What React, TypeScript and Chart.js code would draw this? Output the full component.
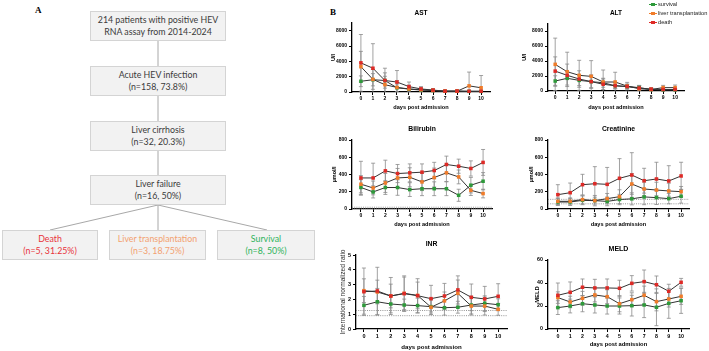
import React, { useEffect, useRef } from "react";
import { Chart, registerables } from "chart.js";

Chart.register(...registerables);
Chart.defaults.font.family = "'Liberation Sans', Arial, sans-serif";

// ---------- data ----------
const days = [0, 1, 2, 3, 4, 5, 6, 7, 8, 9, 10];
const seriesNames = ["survival", "liver transplantation", "death"];

const astSurvival = [1400, 1600, 1500, 550, 380, 250, 200, 100, 100, 80, 80];
const astSurvivalSd = [700, 800, 1000, 500, 400, 250, 150, 100, 100, 80, 80];
const astTransplant = [3300, 1650, 950, 600, 400, 300, 200, 100, 100, 800, 550];
const astTransplantSd = [2000, 1300, 1100, 900, 500, 300, 150, 100, 100, 1800, 1600];
const astDeath = [3800, 3100, 1500, 1300, 700, 400, 250, 120, 130, 100, 100];
const astDeathSd = [3700, 3200, 1600, 1500, 600, 300, 200, 100, 100, 80, 80];
const astTicks = [0, 2000, 4000, 6000, 8000];

const altSurvival = [1330, 1690, 1420, 1250, 1100, 700, 600, 450, 200, 150, 150];
const altSurvivalSd = [700, 900, 700, 800, 600, 400, 300, 300, 150, 100, 100];
const altTransplant = [3550, 2570, 2090, 1950, 1200, 1200, 650, 300, 200, 450, 450];
const altTransplantSd = [3500, 2600, 2000, 2100, 1600, 1300, 500, 400, 200, 300, 350];
const altDeath = [2650, 2090, 1600, 1250, 900, 700, 600, 400, 250, 200, 200];
const altDeathSd = [1900, 1500, 1100, 900, 700, 400, 300, 300, 150, 100, 100];
const altTicks = [0, 2000, 4000, 6000, 8000];

const biliSurvival = [250, 198, 249, 249, 225, 235, 235, 235, 159, 276, 322];
const biliSurvivalSd = [90, 70, 80, 90, 80, 80, 80, 80, 70, 90, 100];
const biliTransplant = [287, 244, 302, 360, 368, 314, 365, 419, 372, 217, 179];
const biliTransplantSd = [100, 80, 110, 110, 110, 100, 110, 100, 80, 60, 50];
const biliDeath = [360, 360, 442, 411, 419, 427, 446, 516, 496, 470, 540];
const biliDeathSd = [193, 171, 124, 105, 104, 96, 95, 97, 82, 88, 150];
const biliRefs = [3.4, 20.5];
const biliTicks = [0, 200, 400, 600, 800];

const creaSurvival = [81, 81, 100, 97, 88, 110, 118, 140, 132, 120, 148];
const creaSurvivalSd = [40, 40, 50, 60, 50, 60, 70, 90, 80, 60, 80];
const creaTransplant = [89, 89, 109, 97, 120, 143, 290, 232, 220, 209, 201];
const creaTransplantSd = [40, 40, 50, 40, 60, 80, 120, 80, 90, 90, 60];
const creaDeath = [166, 189, 282, 293, 286, 356, 394, 328, 348, 325, 383];
const creaDeathSd = [116, 112, 120, 198, 196, 228, 259, 144, 194, 177, 159];
const creaRefs = [60, 112];
const creaTicks = [0, 200, 400, 600, 800];

const inrSurvival = [1.6, 1.84, 1.69, 1.62, 1.58, 1.51, 1.44, 1.47, 1.62, 1.74, 1.64];
const inrSurvivalSd = [0.6, 0.9, 0.6, 0.4, 0.5, 0.5, 0.5, 0.4, 0.6, 0.5, 0.4];
const inrTransplant = [2.59, 2.5, 2.23, 2.41, 2.27, 1.47, 1.9, 2.41, 1.55, 1.55, 1.33];
const inrTransplantSd = [0.8, 0.8, 0.8, 1.1, 0.9, 0.5, 0.6, 0.9, 0.6, 0.6, 0.4];
const inrDeath = [2.52, 2.57, 2.23, 2.39, 2.25, 2.05, 2.23, 2.64, 2.14, 2.03, 2.21];
const inrDeathSd = [1.6, 1.6, 1.25, 1.2, 1.15, 0.9, 0.85, 0.95, 0.9, 0.85, 0.85];
const inrRefs = [0.9, 1.25];
const inrTicks = [0, 1, 2, 3, 4, 5];

const meldSurvival = [18.6, 20, 22, 20.9, 20, 20, 20.3, 20.9, 18.9, 22.3, 24.6];
const meldSurvivalSd = [6, 6, 7, 7, 7, 7, 9, 11, 16, 13, 11];
const meldTransplant = [27.3, 23.5, 26.7, 29.6, 28.1, 22, 25.5, 29.3, 23.8, 26.1, 28.4];
const meldTransplantSd = [5, 5, 6, 6, 6, 7, 6, 8, 8, 7, 7];
const meldDeath = [29.3, 31.9, 36.3, 35.7, 35.7, 35.4, 39.7, 41.2, 38.5, 32.8, 40.6];
const meldDeathSd = [10.7, 9, 7.2, 7.5, 7.8, 7, 6.7, 10.1, 7.6, 6.1, 3.4];
const meldTicks = [0, 20, 40, 60];

// ---------- styles ----------
const GREEN = "#2e9a3a";
const ORANGE = "#f07c2a";
const RED = "#de2a26";
const SERIES_COLORS = [GREEN, ORANGE, RED];
const LINE = "#333333";
const BAR = "#8a8a8a";

type Spec = {
  title: string;
  yTitle: string;
  yTitleBold: boolean;
  yTitleSize: number;
  yMax: number;
  yTicks: number[];
  refs: number[];
  values: number[][];
  sds: number[][];
  rect: { l: number; t: number; r: number; b: number };
  xMin: number;
  xMax: number;
  yW: number;
  yTitleX: number;
  titleY: number;
  xLabelY: number;
  titleSize: number;
  xTitleSize: number;
  tickSize: number;
};

const specs: Spec[] = [
  {
    title: "AST", yTitle: "U/l", yTitleBold: true, yTitleSize: 5.5, yMax: 9000, yTicks: astTicks, refs: [],
    values: [astSurvival, astTransplant, astDeath], sds: [astSurvivalSd, astTransplantSd, astDeathSd],
    rect: { l: 352, t: 23, r: 492, b: 92 }, xMin: -0.74, xMax: 10.74, yW: 26, yTitleX: 333,
    titleY: 13, xLabelY: 108, titleSize: 6.5, xTitleSize: 5.6, tickSize: 5,
  },
  {
    title: "ALT", yTitle: "U/l", yTitleBold: true, yTitleSize: 5.5, yMax: 9000, yTicks: altTicks, refs: [],
    values: [altSurvival, altTransplant, altDeath], sds: [altSurvivalSd, altTransplantSd, altDeathSd],
    rect: { l: 548, t: 23.5, r: 686, b: 91 }, xMin: -0.6, xMax: 10.74, yW: 30, yTitleX: 524,
    titleY: 13, xLabelY: 108, titleSize: 6.5, xTitleSize: 5.6, tickSize: 5,
  },
  {
    title: "Bilirubin", yTitle: "μmol/l", yTitleBold: true, yTitleSize: 5.5, yMax: 800, yTicks: biliTicks, refs: biliRefs,
    values: [biliSurvival, biliTransplant, biliDeath], sds: [biliSurvivalSd, biliTransplantSd, biliDeathSd],
    rect: { l: 352, t: 140, r: 494, b: 209 }, xMin: -0.73, xMax: 10.73, yW: 26, yTitleX: 334,
    titleY: 129, xLabelY: 225, titleSize: 6.8, xTitleSize: 5.6, tickSize: 5,
  },
  {
    title: "Creatinine", yTitle: "μmol/l", yTitleBold: true, yTitleSize: 5.5, yMax: 800, yTicks: creaTicks, refs: creaRefs,
    values: [creaSurvival, creaTransplant, creaDeath], sds: [creaSurvivalSd, creaTransplantSd, creaDeathSd],
    rect: { l: 548, t: 140, r: 691, b: 209 }, xMin: -0.8, xMax: 10.64, yW: 24, yTitleX: 531,
    titleY: 129, xLabelY: 225, titleSize: 6.8, xTitleSize: 5.6, tickSize: 5,
  },
  {
    title: "INR", yTitle: "International normalized ratio", yTitleBold: false, yTitleSize: 6.6, yMax: 5, yTicks: inrTicks, refs: inrRefs,
    values: [inrSurvival, inrTransplant, inrDeath], sds: [inrSurvivalSd, inrTransplantSd, inrDeathSd],
    rect: { l: 356, t: 255, r: 509, b: 329 }, xMin: -0.59, xMax: 10.66, yW: 20, yTitleX: 343,
    titleY: 244, xLabelY: 347, titleSize: 6.8, xTitleSize: 6.1, tickSize: 5.5,
  },
  {
    title: "MELD", yTitle: "MELD", yTitleBold: true, yTitleSize: 5.8, yMax: 60, yTicks: meldTicks, refs: [],
    values: [meldSurvival, meldTransplant, meldDeath], sds: [meldSurvivalSd, meldTransplantSd, meldDeathSd],
    rect: { l: 548, t: 260, r: 691, b: 329 }, xMin: -0.8, xMax: 10.64, yW: 20, yTitleX: 537,
    titleY: 249, xLabelY: 345, titleSize: 7, xTitleSize: 5.8, tickSize: 5.3,
  },
];

// ---------- plugins ----------
const errorBarPlugin = {
  id: "errorBars",
  beforeDatasetsDraw(chart: any) {
    const { ctx, chartArea: a, scales } = chart;
    const x = scales.x;
    const y = scales.y;
    ctx.save();
    ctx.beginPath();
    ctx.rect(a.left, a.top - 3, a.right - a.left, a.bottom - a.top + 3);
    ctx.clip();
    ctx.strokeStyle = BAR;
    ctx.lineWidth = 0.8;
    chart.data.datasets.forEach((ds: any) => {
      ds.data.forEach((p: any, i: number) => {
        const e = ds.sd[i];
        const px = x.getPixelForValue(p.x);
        const hiV = p.y + e;
        const loV = p.y - e;
        const hi = y.getPixelForValue(hiV);
        const lo = y.getPixelForValue(Math.max(loV, y.min));
        ctx.beginPath();
        ctx.moveTo(px, hi);
        ctx.lineTo(px, lo);
        ctx.moveTo(px - 2, hi);
        ctx.lineTo(px + 2, hi);
        if (loV > y.min) {
          ctx.moveTo(px - 2, lo);
          ctx.lineTo(px + 2, lo);
        }
        ctx.stroke();
      });
    });
    ctx.restore();
  },
};

const refLinePlugin = {
  id: "refLines",
  beforeDatasetsDraw(chart: any) {
    const refs: number[] = chart.options.plugins.refLines?.values || [];
    if (!refs.length) return;
    const { ctx, chartArea: a, scales } = chart;
    ctx.save();
    ctx.strokeStyle = "#7a7a7a";
    ctx.lineWidth = 0.8;
    ctx.setLineDash([1, 1.2]);
    refs.forEach((v) => {
      const py = scales.y.getPixelForValue(v);
      ctx.beginPath();
      ctx.moveTo(a.left, py);
      ctx.lineTo(a.right, py);
      ctx.stroke();
    });
    ctx.restore();
  },
};

function geometry(s: Spec) {
  const tLH = s.titleSize * 1.2;
  const left = Math.round(s.rect.l - s.yW);
  const top = Math.round(s.titleY - tLH / 2);
  const titleGap = s.rect.t - top - tLH;
  const xLH = s.xTitleSize * 1.2;
  const bottom = Math.round(s.xLabelY + xLH / 2);
  const xH = bottom - s.rect.b;
  const padR = 2;
  const w = Math.round(s.rect.r + padR - left);
  const h = bottom - top;
  const yW = s.rect.l - left;
  const yTitlePad = s.yTitleX - left - (s.yTitleSize * 1.2) / 2;
  return { left, top, w, h, titleGap, xH, padR, yW, yTitlePad };
}

function LinePanel({ spec }: { spec: Spec }) {
  const ref = useRef<HTMLCanvasElement>(null);
  const g = geometry(spec);
  useEffect(() => {
    const canvas = ref.current!;
    const order = [2, 1, 0];
    const chart = new Chart(canvas, {
      type: "line",
      data: {
        datasets: order.map((k) => ({
          label: seriesNames[k],
          data: days.map((d, i) => ({ x: d, y: spec.values[k][i] })),
          sd: spec.sds[k],
          borderColor: LINE,
          borderWidth: 1,
          backgroundColor: SERIES_COLORS[k],
          pointStyle: "rect",
          pointRadius: 2.5,
          pointBackgroundColor: SERIES_COLORS[k],
          pointBorderColor: SERIES_COLORS[k],
          pointBorderWidth: 0,
          tension: 0,
          clip: false,
        })) as any,
      },
      options: {
        responsive: false,
        animation: false,
        devicePixelRatio: 1,
        events: [],
        layout: { padding: { top: 0, left: 0, bottom: 0, right: g.padR } },
        plugins: {
          legend: { display: false },
          tooltip: { enabled: false },
          refLines: { values: spec.refs },
          title: {
            display: true,
            text: spec.title,
            fullSize: false,
            color: "#000",
            font: { size: spec.titleSize, weight: "bold", lineHeight: 1.2 },
            padding: { top: 0, bottom: g.titleGap },
          },
        } as any,
        scales: {
          x: {
            type: "linear",
            min: spec.xMin,
            max: spec.xMax,
            afterFit: (sc: any) => {
              sc.height = g.xH;
            },
            afterBuildTicks: (sc: any) => {
              sc.ticks = days.map((d) => ({ value: d }));
            },
            ticks: {
              autoSkip: false,
              maxRotation: 0,
              color: "#000",
              padding: 1,
              font: { size: spec.tickSize, weight: "bold" },
              callback: (v: any) => String(v),
            },
            grid: { display: true, drawOnChartArea: false, drawTicks: true, tickLength: 3, color: "#000", lineWidth: 1 },
            border: { display: true, color: "#000", width: 1.3 },
            title: {
              display: true,
              text: "days post admission",
              color: "#000",
              font: { size: spec.xTitleSize, weight: "bold", lineHeight: 1.2 },
              padding: { top: 0, bottom: 0 },
            },
          },
          y: {
            type: "linear",
            min: 0,
            max: spec.yMax,
            afterFit: (sc: any) => {
              sc.width = g.yW;
            },
            afterBuildTicks: (sc: any) => {
              sc.ticks = spec.yTicks.map((v) => ({ value: v }));
            },
            ticks: {
              autoSkip: false,
              color: "#000",
              padding: 2,
              font: { size: spec.tickSize, weight: "bold" },
              callback: (v: any) => String(v),
            },
            grid: { display: true, drawOnChartArea: false, drawTicks: true, tickLength: 3, color: "#000", lineWidth: 1 },
            border: { display: true, color: "#000", width: 1.3 },
            title: {
              display: true,
              text: spec.yTitle,
              color: spec.yTitleBold ? "#000" : "#333",
              font: { size: spec.yTitleSize, weight: spec.yTitleBold ? "bold" : "normal", lineHeight: 1.2 },
              padding: { top: g.yTitlePad, bottom: 0 },
            },
          },
        },
      } as any,
      plugins: [refLinePlugin, errorBarPlugin],
    });
    return () => chart.destroy();
  }, []);
  return (
    <canvas
      ref={ref}
      width={g.w}
      height={g.h}
      style={{ position: "absolute", left: g.left, top: g.top, width: g.w, height: g.h }}
    />
  );
}

// ---------- flow chart ----------
const flowFont = "Lato, 'Open Sans', sans-serif";

function Box(props: { x: number; y: number; w: number; h: number; lines: string[]; color?: string }) {
  return (
    <div
      style={{
        position: "absolute",
        left: props.x,
        top: props.y,
        width: props.w,
        height: props.h,
        boxSizing: "border-box",
        background: "#f2f2f2",
        border: "1px solid #d4d4d4",
        display: "flex",
        flexDirection: "column",
        alignItems: "center",
        justifyContent: "center",
        fontFamily: flowFont,
        fontSize: 8.8,
        lineHeight: "12px",
        color: props.color || "#3a3a3a",
        textAlign: "center",
        whiteSpace: "nowrap",
      }}
    >
      {props.lines.map((t, i) => (
        <div key={i}>{t}</div>
      ))}
    </div>
  );
}

function Legend() {
  return (
    <div style={{ position: "absolute", left: 647, top: 0, fontFamily: "'Liberation Sans', Arial, sans-serif", fontSize: 5.7, color: "#222" }}>
      {seriesNames.map((n, i) => (
        <div key={n} style={{ position: "relative", height: 9, lineHeight: "9px", whiteSpace: "nowrap" }}>
          <span style={{ position: "absolute", left: 2, top: 4, width: 8, height: 1, background: SERIES_COLORS[i] }} />
          <span style={{ position: "absolute", left: 4.3, top: 2.8, width: 3.4, height: 3.4, background: SERIES_COLORS[i] }} />
          <span style={{ position: "absolute", left: 11 }}>{n}</span>
        </div>
      ))}
    </div>
  );
}

export default function App() {
  return (
    <div style={{ position: "absolute", left: 0, top: 0, width: 709, height: 351, background: "#fff", overflow: "hidden" }}>
      <div style={{ position: "absolute", left: 35, top: 5, fontFamily: "'Liberation Serif', 'Times New Roman', serif", fontWeight: "bold", fontSize: 9 }}>A</div>
      <div style={{ position: "absolute", left: 330, top: 7, fontFamily: "'Liberation Serif', 'Times New Roman', serif", fontWeight: "bold", fontSize: 9 }}>B</div>

      <svg width={330} height={270} style={{ position: "absolute", left: 0, top: 0 }}>
        <g stroke="#a8a8a8" strokeWidth={1}>
          <line x1={158} y1={41} x2={158} y2={66} />
          <line x1={158} y1={96} x2={158} y2={121} />
          <line x1={158} y1={151} x2={158} y2={175} />
          <line x1={158} y1={205} x2={50} y2={230} />
          <line x1={158} y1={205} x2={158} y2={230} />
          <line x1={158} y1={205} x2={267} y2={230} />
        </g>
      </svg>
      <Box x={90} y={11} w={136} h={30} lines={["214 patients with positive HEV", "RNA assay from 2014-2024"]} />
      <Box x={90} y={66} w={136} h={30} lines={["Acute HEV infection", "(n=158, 73.8%)"]} />
      <Box x={90} y={121} w={136} h={30} lines={["Liver cirrhosis", "(n=32, 20.3%)"]} />
      <Box x={90} y={175} w={136} h={30} lines={["Liver failure", "(n=16, 50%)"]} />
      <Box x={2} y={230} w={96} h={30} lines={["Death", "(n=5, 31.25%)"]} color="#e8333a" />
      <Box x={109} y={230} w={97} h={30} lines={["Liver transplantation", "(n=3, 18.75%)"]} color="#f2a170" />
      <Box x={217} y={230} w={98} h={30} lines={["Survival", "(n=8, 50%)"]} color="#2fb35a" />

      {specs.map((s) => (
        <LinePanel key={s.title} spec={s} />
      ))}
      <Legend />
    </div>
  );
}
